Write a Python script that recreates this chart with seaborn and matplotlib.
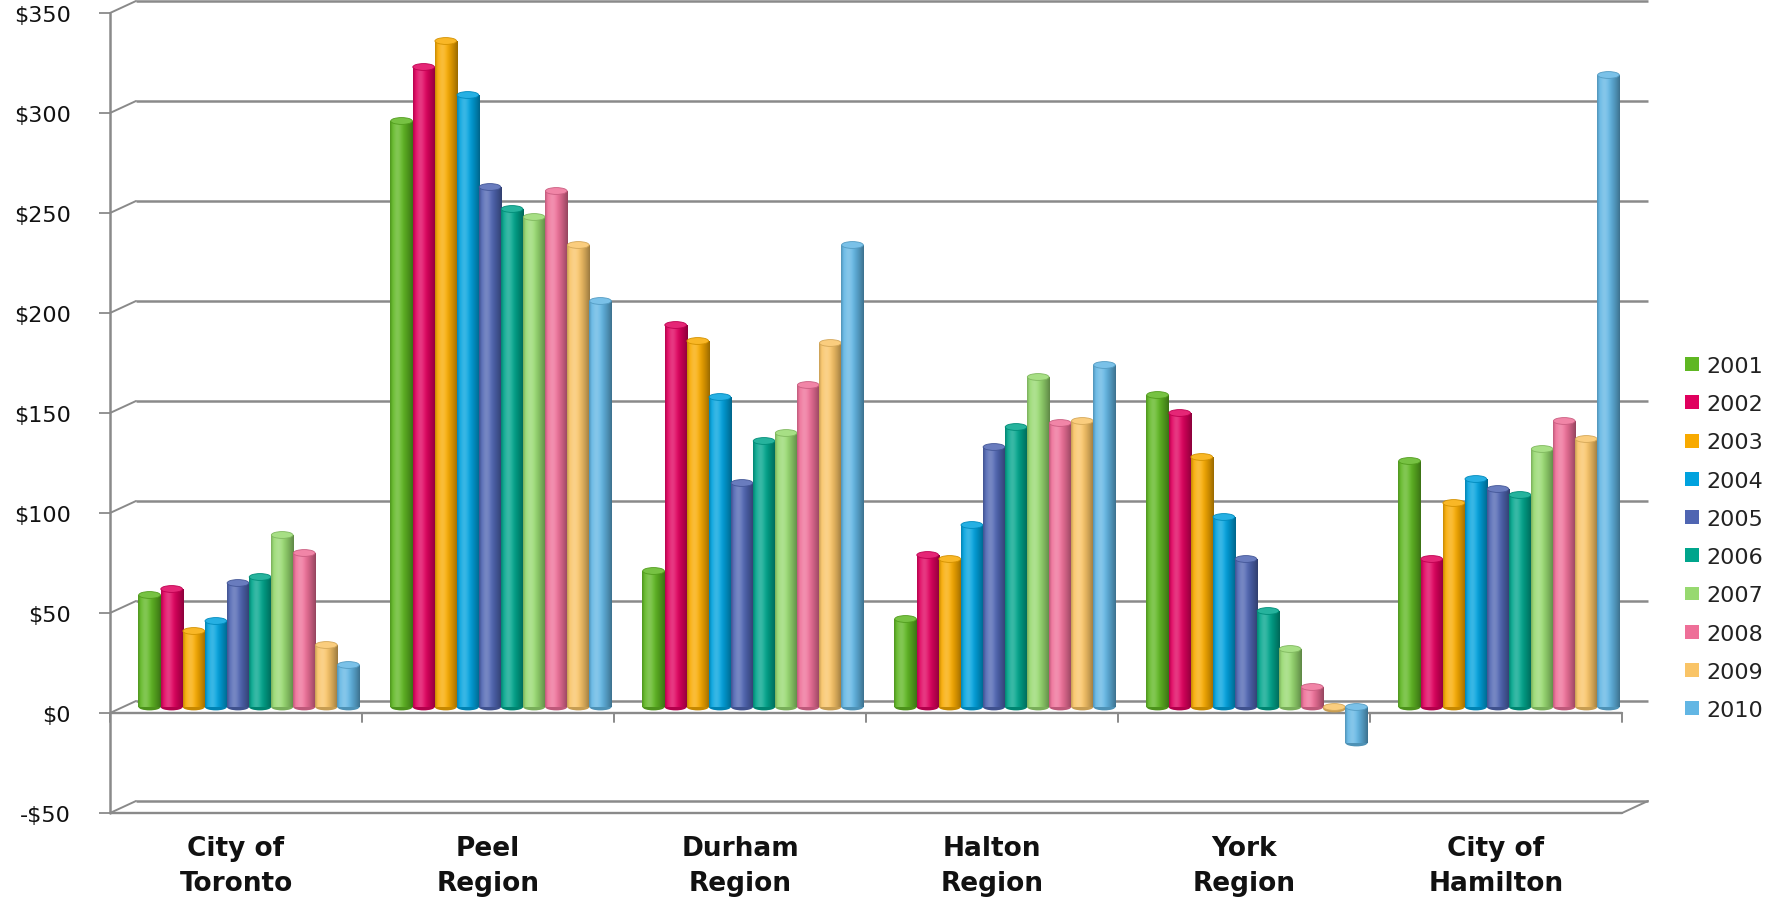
import numpy as np
import pandas as pd
import matplotlib
matplotlib.use("Agg")
import matplotlib.pyplot as plt
import seaborn as sns
from matplotlib.patches import Ellipse, Patch
from matplotlib.colors import to_rgb

# ---- data -------------------------------------------------------------
regions = ["City of\nToronto", "Peel\nRegion", "Durham\nRegion",
           "Halton\nRegion", "York\nRegion", "City of\nHamilton"]
years = ["2001", "2002", "2003", "2004", "2005",
         "2006", "2007", "2008", "2009", "2010"]

toronto = [56, 59, 38, 43, 62, 65, 86, 77, 31, 21]
peel = [293, 320, 333, 306, 260, 249, 245, 258, 231, 203]
durham = [68, 191, 183, 155, 112, 133, 137, 161, 182, 231]
halton = [44, 76, 74, 91, 130, 140, 165, 142, 143, 171]
york = [156, 147, 125, 95, 74, 48, 29, 10, -1, -18]
hamilton = [123, 74, 102, 114, 109, 106, 129, 143, 134, 316]

y_ticks = [-50, 0, 50, 100, 150, 200, 250, 300, 350]
y_labels = ["-$50", "$0", "$50", "$100", "$150", "$200", "$250", "$300", "$350"]

year_colors = ["#5fb722", "#e0005e", "#f8aa00", "#00a2de", "#4f65b2",
               "#00a58c", "#97d970", "#ee6f98", "#f9c467", "#62b6e4"]

values = [toronto, peel, durham, halton, york, hamilton]
df = pd.DataFrame(
    [(r, y, v[i]) for r, v in zip(regions, values) for i, y in enumerate(years)],
    columns=["region", "year", "value"],
)

# ---- figure ------------------------------------------------------------
sns.set_style("white")
plt.rcParams["font.family"] = ["DejaVu Sans"]

W, H = 1773, 904
fig = plt.figure(figsize=(W / 100, H / 100), dpi=100)
ax_left_px, ax_right_px, ax_top_px, ax_bot_px = 110, 1653, 0, 814
ax = fig.add_axes([ax_left_px / W, 1 - ax_bot_px / H,
                   (ax_right_px - ax_left_px) / W, (ax_bot_px - ax_top_px) / H])

sns.barplot(data=df, x="region", y="value", hue="year", hue_order=years,
            palette=year_colors, width=0.877, gap=0, saturation=1,
            errorbar=None, legend=False, ax=ax)

# depth offsets of the pseudo-3D frame (front plane / back wall)
dx, dv = 13 / 252, 3.0
grid_c = "#8a8a8a"
xl, xr = -0.5, 5.5

# back wall gridlines and the slanted side-wall connectors
for t in y_ticks:
    ax.plot([xl + dx, xr + dx], [t + dv, t + dv], color=grid_c, lw=1.8,
            zorder=1, solid_capstyle="butt", clip_on=False)
    ax.plot([xl - dx, xl + dx], [t - dv, t + dv], color=grid_c, lw=1.4,
            zorder=1, clip_on=False)

# front vertical axis
ax.plot([xl - dx, xl - dx], [-50 - dv, 350 - dv], color=grid_c, lw=1.8,
        zorder=1, clip_on=False)
# floor front edge and right side
ax.plot([xl - dx, xr - dx], [-50 - dv, -50 - dv], color=grid_c, lw=1.7,
        zorder=1, clip_on=False)
ax.plot([xr - dx, xr + dx], [-50 - dv, -50 + dv], color=grid_c, lw=1.4,
        zorder=1, clip_on=False)
# front category axis at zero with boundary ticks
ax.plot([xl - dx, xr - dx], [-dv, -dv], color=grid_c, lw=1.7, zorder=1,
        clip_on=False)
for b in np.arange(-0.5, 6.0, 1.0):
    ax.plot([b - dx, b - dx], [-dv, -dv - 4.5], color=grid_c, lw=1.4,
            zorder=1, clip_on=False)

# ---- cylinder shading ---------------------------------------------------
tt = np.linspace(0, 1, 80)
light = np.exp(-((tt - 0.32) / 0.2) ** 2)
dark = (np.clip((tt - 0.45) / 0.55, 0, 1) ** 1.4 * 0.38
        + np.clip((0.12 - tt) / 0.12, 0, 1) * 0.2)


def body_image(rgb):
    base = np.array(rgb)
    col = base[None, :] * (1 - dark[:, None])
    col = col + (1 - col) * (0.22 * light[:, None])
    return np.clip(col, 0, 1)[None, :, :]


cap_h = 3.4
for j, cont in enumerate(ax.containers):
    rgb = np.array(to_rgb(year_colors[j]))
    img = body_image(rgb)
    for rect in cont:
        x0, w = rect.get_x(), rect.get_width()
        y0, h = rect.get_y(), rect.get_height()
        lo, hi = min(y0, y0 + h), max(y0, y0 + h)
        rect.set_visible(False)
        z = 3 + 0.01 * j
        xc = x0 + w / 2
        ax.add_patch(Ellipse((xc, lo), w, cap_h,
                             facecolor=tuple(rgb * 0.8),
                             edgecolor="none", zorder=z - 0.5))
        ax.imshow(img, extent=[x0, x0 + w, lo, hi], aspect="auto",
                  interpolation="bilinear", zorder=z)
        cap_face = tuple(rgb + (1 - rgb) * 0.15)
        ax.add_patch(Ellipse((xc, hi), w * 0.98, cap_h, facecolor=cap_face,
                             edgecolor=tuple(rgb * 0.85), lw=0.6,
                             zorder=z + 0.005))

# ---- axes cosmetics -----------------------------------------------------
ax.set_xlim((ax_left_px - 249) / 252, (ax_right_px - 249) / 252)
ax.set_ylim((708 - ax_bot_px) / 2, (708 - ax_top_px) / 2)
for s in ax.spines.values():
    s.set_visible(False)
ax.grid(False)

ax.set_yticks([t - dv for t in y_ticks], y_labels)
ax.tick_params(axis="y", length=8, width=1.3, color=grid_c, pad=20,
               labelsize=16, labelcolor="#111111", left=True)
ax.set_xticks([i - dx for i in range(len(regions))], regions,
              fontweight="bold", linespacing=1.45)
ax.tick_params(axis="x", length=0, pad=16, labelsize=19, labelcolor="#111111")
ax.set_xlabel("")
ax.set_ylabel("")

handles = [Patch(facecolor=c, edgecolor="none") for c in year_colors]
ax.legend(handles, years, loc="center left",
          bbox_to_anchor=(1685 / W, 1 - 539 / H), bbox_transform=fig.transFigure,
          frameon=False, fontsize=16, handlelength=0.62, handleheight=0.58,
          handletextpad=0.35, labelspacing=0.82, borderpad=0, borderaxespad=0,
          labelcolor="#222222")

fig.savefig("out.png", dpi=100)
